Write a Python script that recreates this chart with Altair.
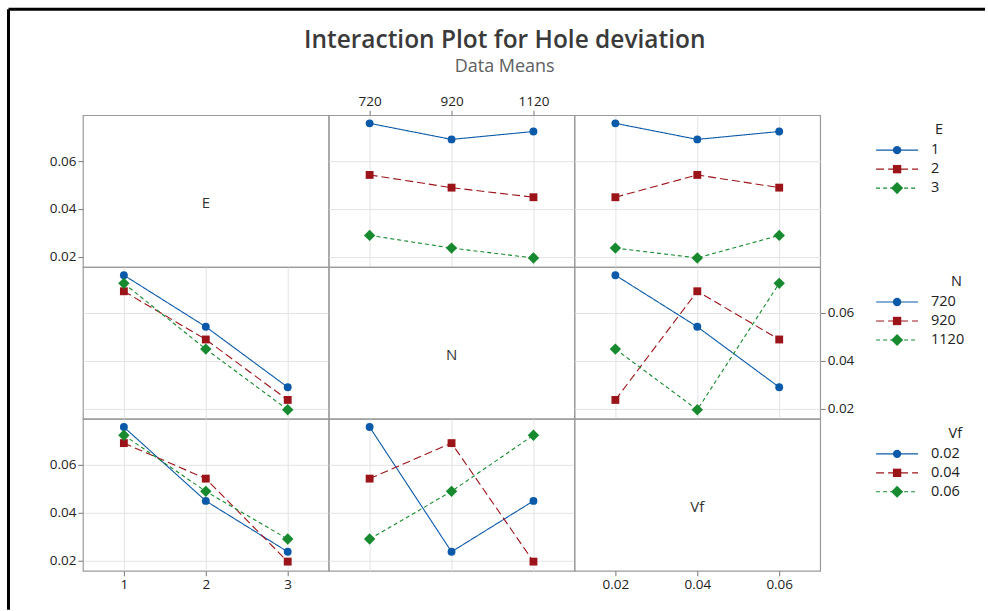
import altair as alt
import pandas as pd

# ---------------- data (L9 runs) ----------------
FACTORS = ["E", "N", "Vf"]
E_RUN = [1, 1, 1, 2, 2, 2, 3, 3, 3]
N_RUN = [720, 920, 1120, 720, 920, 1120, 720, 920, 1120]
VF_RUN = [0.02, 0.04, 0.06, 0.04, 0.06, 0.02, 0.06, 0.02, 0.04]
HOLE_DEV = [0.0757, 0.0690, 0.0723, 0.0542, 0.0489, 0.0449, 0.0290, 0.0237, 0.0196]

LEVELS = {"E": [1, 2, 3], "N": [720, 920, 1120], "Vf": [0.02, 0.04, 0.06]}
LEVEL_LABELS = {"E": ["1", "2", "3"], "N": ["720", "920", "1120"], "Vf": ["0.02", "0.04", "0.06"]}
Y_TICKS = [0.02, 0.04, 0.06]

runs = pd.DataFrame({"E": E_RUN, "N": N_RUN, "Vf": VF_RUN, "dev": HOLE_DEV})

# ---------------- style ----------------
COLORS = ["#0b5aa9", "#9b1419", "#17892f"]
SHAPES = ["circle", "square", "M0,-1.45L1.45,0L0,1.45L-1.45,0Z"]
DASHES = [[1, 0], [8, 4], [4, 3]]
FONT = "Open Sans"
GRID = "#e3e3e3"
W, H = 246, 152
LEG_W = 150
X_DOMAIN = {"E": [0.5, 3.5], "N": [620, 1220], "Vf": [0.01, 0.07]}
Y_DOMAIN = [0.0158, 0.0791]
FMT = {"E": "d", "N": "d", "Vf": ".2f"}
TITLE_X = {"E": 123, "N": 142, "Vf": 142}

yscale = alt.Scale(domain=Y_DOMAIN, nice=False, zero=False)


def xscale(f):
    return alt.Scale(domain=X_DOMAIN[f], nice=False, zero=False)


def make_axis(orient, values, fmt, labels, grid):
    common = dict(orient=orient, values=values, title=None, domain=False,
                  grid=grid, gridColor=GRID, gridWidth=1)
    if labels:
        return alt.Axis(format=fmt, labels=True, ticks=True, tickSize=5,
                        tickColor="#777", tickWidth=1, labelFont=FONT,
                        labelFontSize=13.5, labelColor="#222", labelPadding=2,
                        **common)
    return alt.Axis(labels=False, ticks=False, **common)


def color_enc(f):
    return alt.Color("level:N", scale=alt.Scale(domain=LEVEL_LABELS[f], range=COLORS), legend=None)


def shape_enc(f):
    return alt.Shape("level:N", scale=alt.Scale(domain=LEVEL_LABELS[f], range=SHAPES), legend=None)


def dash_enc(f):
    return alt.StrokeDash("level:N", scale=alt.Scale(domain=LEVEL_LABELS[f], range=DASHES), legend=None)


def means(rf, cf):
    g = runs.groupby([rf, cf], as_index=False)["dev"].mean()
    g["level"] = g[rf].map(dict(zip(LEVELS[rf], LEVEL_LABELS[rf])))
    g["x"] = g[cf]
    return g[["level", "x", "dev"]]


def interaction_panel(r, c):
    rf, cf = FACTORS[r], FACTORS[c]
    df = means(rf, cf)
    if r == 0 and c == 1:
        xa = make_axis("top", LEVELS[cf], FMT[cf], True, True)
    elif r == 2 and c == 0:
        xa = make_axis("bottom", LEVELS[cf], FMT[cf], True, True)
    else:
        xa = make_axis("bottom", LEVELS[cf], FMT[cf], False, True)
    if r == 2 and c == 0:
        ya = make_axis("left", Y_TICKS, ".2f", True, True)
    elif r == 1 and c == 2:
        ya = make_axis("right", Y_TICKS, ".2f", True, True)
    else:
        ya = make_axis("left", Y_TICKS, ".2f", False, True)
    x = alt.X("x:Q", scale=xscale(cf), axis=xa)
    y = alt.Y("dev:Q", scale=yscale, axis=ya)
    base = alt.Chart(df)
    lines = base.mark_line(strokeWidth=1.1).encode(
        x=x, y=y, color=color_enc(rf), strokeDash=dash_enc(rf))
    pts = base.mark_point(filled=True, size=62, opacity=1).encode(
        x=x, y=y, color=color_enc(rf), shape=shape_enc(rf))
    return alt.layer(lines, pts).properties(width=W, height=H)


def diag_panel(i):
    f = FACTORS[i]
    label = alt.Chart(pd.DataFrame({"name": [f]})).mark_text(
        font=FONT, fontSize=15, color="#333", baseline="middle"
    ).encode(x=alt.value(W / 2), y=alt.value(H / 2 + 12), text="name:N")
    layers = []
    if i == 0:
        layers.append(alt.Chart(runs).mark_point(opacity=0).encode(
            y=alt.Y("dev:Q", scale=yscale, axis=make_axis("left", Y_TICKS, ".2f", True, False))))
        frame = pd.DataFrame({"edge": ["frame"]})
        layers.append(alt.Chart(frame).mark_rule(color="black", strokeWidth=3).encode(
            x=alt.value(-74.5), x2=alt.value(903), y=alt.value(-106)))
        layers.append(alt.Chart(frame).mark_rule(color="black", strokeWidth=3).encode(
            x=alt.value(-74.5), y=alt.value(-106), y2=alt.value(495)))
    if i == 2:
        layers.append(alt.Chart(runs).mark_point(opacity=0).encode(
            x=alt.X("Vf:Q", scale=xscale("Vf"),
                    axis=make_axis("bottom", LEVELS["Vf"], ".2f", True, False))))
    layers.append(label)
    return alt.layer(*layers).properties(width=W, height=H)


def legend_panel(i):
    f = FACTORS[i]
    df = pd.DataFrame({"level": LEVEL_LABELS[f], "idx": [0, 1, 2]})
    y = alt.Y("idx:Q", scale=alt.Scale(domain=[0, 2], range=[35, 73]), axis=None)
    rule = alt.Chart(df).mark_rule(strokeWidth=1.1).encode(
        x=alt.value(56), x2=alt.value(98), y=y, color=color_enc(f), strokeDash=dash_enc(f))
    pts = alt.Chart(df).mark_point(filled=True, size=70, opacity=1).encode(
        x=alt.value(77), y=y, color=color_enc(f), shape=shape_enc(f))
    txt = alt.Chart(df).mark_text(align="left", baseline="middle", font=FONT,
                                  fontSize=14.5, color="#222").encode(
        x=alt.value(111), y=y, text="level:N")
    ttl = alt.Chart(pd.DataFrame({"name": [f]})).mark_text(
        align="right", baseline="middle", font=FONT, fontSize=14.5, color="#222"
    ).encode(x=alt.value(TITLE_X[f]), y=alt.value(15), text="name:N")
    return alt.layer(rule, pts, txt, ttl).properties(
        width=LEG_W, height=H, view=alt.ViewBackground(stroke="transparent"))


cells = []
for r in range(3):
    for c in range(3):
        cells.append(diag_panel(r) if r == c else interaction_panel(r, c))
    cells.append(legend_panel(r))

chart = alt.concat(*cells, columns=4, spacing=0, bounds="flush", align="each").resolve_scale(
    x="independent", y="independent", color="independent",
    shape="independent", strokeDash="independent"
).properties(
    padding={"left": 6, "top": 6, "right": 0, "bottom": 0},
    title=alt.TitleParams(
        text="Interaction Plot for Hole deviation", subtitle="Data Means",
        anchor="middle", offset=-70, dx=8, font=FONT, fontSize=24.5,
        fontWeight=600, color="#3a3a3a", subtitleFont=FONT, subtitleFontSize=18,
        subtitleColor="#606060", subtitlePadding=5),
    background="white",
).configure_view(stroke="#9a9a9a", strokeWidth=1.2)

chart.save("out.html", embed_options={"renderer": "svg", "actions": False})
